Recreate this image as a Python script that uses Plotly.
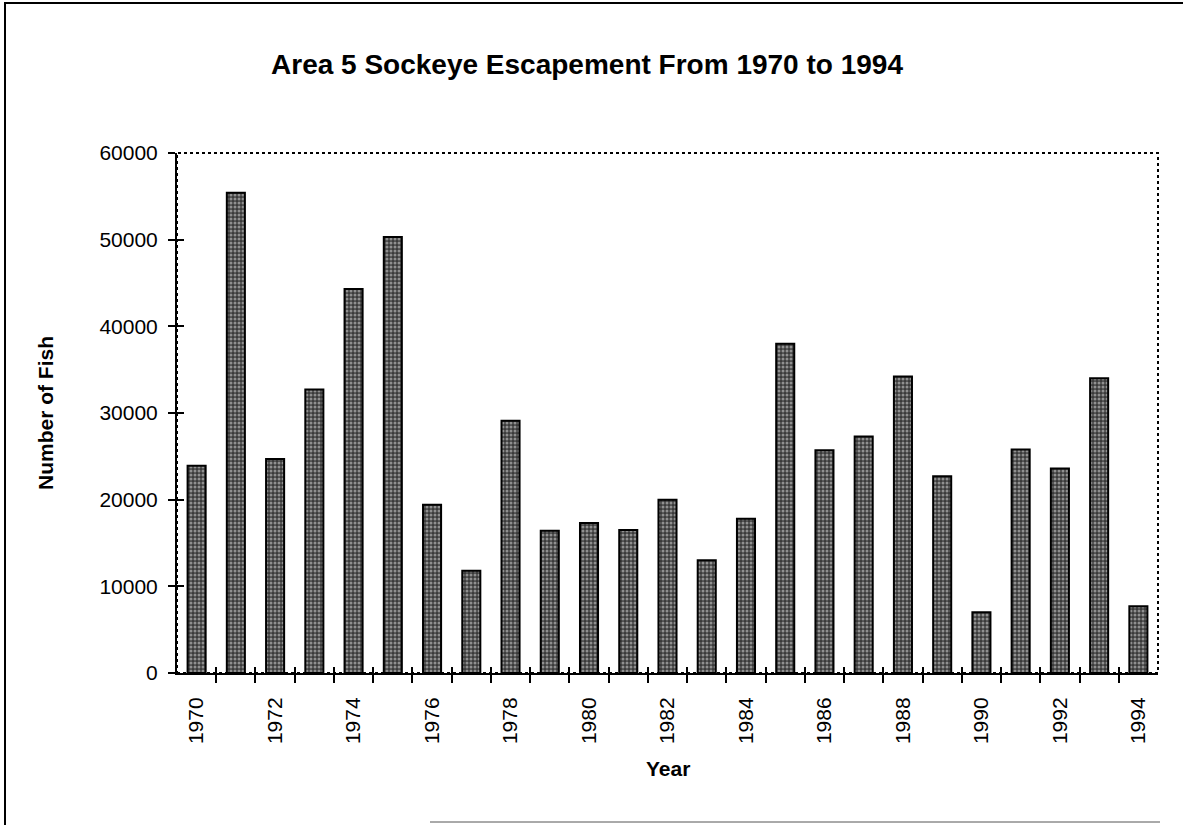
import plotly.graph_objects as go

# Area 5 sockeye escapement
years = [1970, 1971, 1972, 1973, 1974, 1975, 1976, 1977, 1978, 1979,
         1980, 1981, 1982, 1983, 1984, 1985, 1986, 1987, 1988, 1989,
         1990, 1991, 1992, 1993, 1994]
fish = [23900, 55400, 24700, 32700, 44300, 50300, 19400, 11800, 29100, 16400,
        17300, 16500, 20000, 13000, 17800, 38000, 25700, 27300, 34200, 22700,
        7000, 25800, 23600, 34000, 7700]
year_labels = [1970, 1972, 1974, 1976, 1978, 1980, 1982, 1984, 1986, 1988,
               1990, 1992, 1994]
y_ticks = [0, 10000, 20000, 30000, 40000, 50000, 60000]

FONT = "Liberation Sans, Arial, sans-serif"
W, H = 1183, 825
L, R, T, B = 177, 25, 153, 152
PW, PH = W - L - R, H - T - B


def px_x(x):
    # page pixel -> paper x
    return (x - L) / PW


def px_y(y):
    # page pixel -> paper y
    return (H - B - y) / PH


boundaries = [y - 0.5 for y in years] + [years[-1] + 0.5]
x_range = [years[0] - 0.5, years[-1] + 0.5]
y_range = [0, 60000]

fig = go.Figure()
fig.add_trace(
    go.Bar(
        x=years,
        y=fish,
        marker={
            "color": "#3a3a3a",
            "line": {"color": "black", "width": 2},
            "pattern": {
                "shape": ".",
                "fgcolor": "#e6e6e6",
                "bgcolor": "#3a3a3a",
                "size": 4,
                "solidity": 0.45,
            },
        },
        showlegend=False,
        hoverinfo="x+y",
    )
)
# invisible trace so the overlay axes (inner half of the cross ticks) get drawn
fig.add_trace(
    go.Scatter(x=years, y=fish, xaxis="x2", yaxis="y2", mode="markers",
               marker={"opacity": 0}, showlegend=False, hoverinfo="skip")
)

fig.update_layout(
    width=W,
    height=H,
    margin={"l": L, "r": R, "t": T, "b": B},
    plot_bgcolor="white",
    paper_bgcolor="white",
    font={"family": FONT, "size": 21, "color": "black"},
    bargap=0.54,
    title={
        "text": "<b>Area 5 Sockeye Escapement From 1970 to 1994</b>",
        "font": {"family": FONT, "size": 28, "color": "black"},
        "x": 587 / W,
        "xanchor": "center",
        "y": 1 - 64 / H,
        "yanchor": "middle",
    },
    xaxis={
        "range": x_range,
        "tickmode": "array",
        "tickvals": year_labels,
        "ticktext": [str(y) for y in year_labels],
        "tickangle": -90,
        "ticks": "",
        "showgrid": False,
        "zeroline": False,
        "showline": True,
        "linecolor": "black",
        "linewidth": 2,
        "ticklabelstandoff": 14,
        "tickfont": {"size": 21},
        "minor": {
            "tickmode": "array",
            "tickvals": boundaries[1:-1],
            "ticks": "outside",
            "ticklen": 8,
            "tickwidth": 2,
            "tickcolor": "black",
            "showgrid": False,
        },
    },
    xaxis2={
        "range": x_range,
        "overlaying": "x",
        "anchor": "y",
        "side": "bottom",
        "showticklabels": False,
        "showgrid": False,
        "zeroline": False,
        "ticks": "",
        "minor": {
            "tickmode": "array",
            "tickvals": boundaries[1:-1],
            "ticks": "inside",
            "ticklen": 6,
            "tickwidth": 2,
            "tickcolor": "black",
            "showgrid": False,
        },
    },
    yaxis={
        "range": y_range,
        "tickmode": "array",
        "tickvals": y_ticks,
        "ticktext": [str(v) for v in y_ticks],
        "ticks": "outside",
        "ticklen": 7,
        "tickwidth": 2,
        "tickcolor": "black",
        "showgrid": False,
        "zeroline": False,
        "showline": True,
        "linecolor": "black",
        "linewidth": 2,
        "ticklabelstandoff": 6,
        "tickfont": {"size": 21},
    },
    yaxis2={
        "range": y_range,
        "overlaying": "y",
        "anchor": "x",
        "side": "left",
        "tickmode": "array",
        "tickvals": y_ticks[1:],
        "showticklabels": False,
        "ticks": "inside",
        "ticklen": 7,
        "tickwidth": 2,
        "tickcolor": "black",
        "showgrid": False,
        "zeroline": False,
    },
    annotations=[
        {
            "text": "<b>Year</b>",
            "xref": "paper", "yref": "paper",
            "x": 0.5, "y": px_y(768),
            "xanchor": "center", "yanchor": "middle",
            "showarrow": False,
            "font": {"family": FONT, "size": 21},
        },
        {
            "text": "<b>Number of Fish</b>",
            "xref": "paper", "yref": "paper",
            "x": px_x(45), "y": 0.5,
            "xanchor": "center", "yanchor": "middle",
            "textangle": -90,
            "showarrow": False,
            "font": {"family": FONT, "size": 21},
        },
    ],
    shapes=[
        # dotted frame on top/right of the plot area
        {"type": "rect", "xref": "paper", "yref": "paper", "x0": 0, "x1": 1, "y0": 0, "y1": 1,
         "line": {"color": "black", "width": 2, "dash": "dot"}, "layer": "below"},
        # outer page frame (top, left, part of bottom)
        {"type": "line", "xref": "paper", "yref": "paper",
         "x0": px_x(4), "x1": px_x(W), "y0": px_y(3), "y1": px_y(3),
         "line": {"color": "black", "width": 2}},
        {"type": "line", "xref": "paper", "yref": "paper",
         "x0": px_x(5), "x1": px_x(5), "y0": px_y(3), "y1": px_y(H),
         "line": {"color": "black", "width": 2}},
        {"type": "line", "xref": "paper", "yref": "paper",
         "x0": px_x(430), "x1": px_x(1160), "y0": px_y(822), "y1": px_y(822),
         "line": {"color": "#555555", "width": 1}},
    ],
)

fig.write_html(
    "out.html",
    config={"displayModeBar": False},
    post_script="document.body.style.margin='0';document.body.style.overflow='hidden';",
)
